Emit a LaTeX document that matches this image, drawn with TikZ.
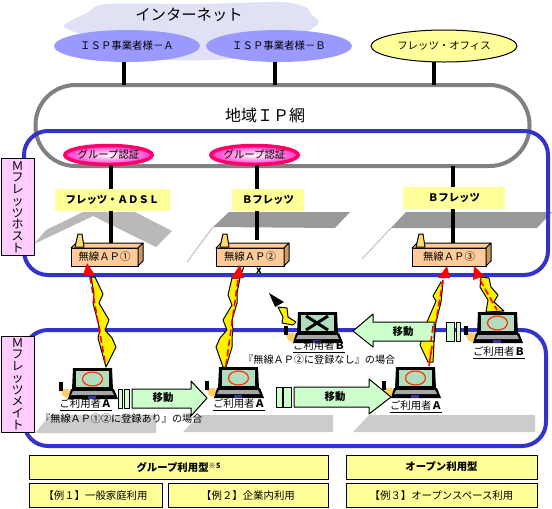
\documentclass[tikz,border=0pt]{standalone}
\usepackage{fontspec}
\setmainfont{Noto Sans CJK JP}
\usetikzlibrary{shapes.geometric}
\tikzset{
  pxbox/.style 2 args={minimum width=#1*0.75pt, minimum height=#2*0.75pt, inner sep=0pt, outer sep=0pt},
  link/.style={black, line width=3pt},
  frame/.style={draw=frameblue, line width=3pt, rounded corners=18pt},
  isp/.style={ellipse, fill=ispblue, pxbox={146}{32}, font=\fontsize{7.8}{9}\selectfont},
  auth/.style={ellipse, draw=authred, line width=2.6pt, inner color=white, outer color=authpink, pxbox={82}{19}, font=\fontsize{7.8}{9}\selectfont},
  service/.style={fill=paleyellow, pxbox={#1}{22}, font=\bfseries\fontsize{7.8}{9}\selectfont},
  apbox/.style={draw=black, line width=0.75pt, fill=apface, pxbox={#1}{18}, font=\fontsize{7.8}{9}\selectfont},
  sidebox/.style={draw=black, line width=0.75pt, fill=pinkbox, pxbox={33}{#1}, align=center, font=\fontsize{9}{8.8}\selectfont},
  planbox/.style={draw=black, line width=0.75pt, fill=paleyellow, pxbox={#1}{24}, font=\fontsize{7.8}{9}\selectfont},
  bolt/.style={draw=black, line width=0.75pt, fill=yellow, line join=round},
  radio/.style={draw=red, line width=1.2pt, dash pattern=on 5pt off 2.5pt},
  move/.style={draw=black, line width=0.75pt, fill=movegreen},
  user/.style={font=\fontsize{7.8}{9}\selectfont, inner sep=0pt},
  note/.style={font=\fontsize{7.6}{9}\selectfont, inner sep=0pt},
  laptop/.pic={
    \fill[black] (2,0) -- (41,0) -- (42,22) -- (1,22) -- cycle;
    \fill[screengreen] (5,3) rectangle (38,19);
    \fill[phone] (-11,21) -- (-2,21) -- (0,27) -- (-4,30) -- (-8,28) -- cycle;
    \fill[black] (-12,14) rectangle (-8,23);
    \fill[black] (0,21) -- (43,21) -- (47,31) -- (-3,31) -- cycle;
    \fill[gray!70] (2,23) -- (41,23) -- (43,27) -- (0,27) -- cycle;
    \fill[keyblue] (17,28) rectangle (25,31);
  },
  okmark/.pic={\draw[draw=okred, line width=0.9pt] (21.5,11) ellipse [x radius=10, y radius=7];},
  ngmark/.pic={\draw[black, line width=2.2pt] (10,4) -- (32,18) (32,4) -- (10,18);}
}
\begin{document}
\begin{tikzpicture}[x=0.75pt, y=-0.75pt, line join=round]
  \definecolor{frameblue}{RGB}{51,51,204}
  \definecolor{ispblue}{RGB}{153,153,255}
  \definecolor{cloudblue}{RGB}{225,225,245}
  \definecolor{paleyellow}{RGB}{255,255,153}
  \definecolor{authred}{RGB}{255,0,102}
  \definecolor{authpink}{RGB}{255,51,204}
  \definecolor{apface}{RGB}{255,204,153}
  \definecolor{apside}{RGB}{204,153,102}
  \definecolor{pinkbox}{RGB}{255,204,255}
  \definecolor{movegreen}{RGB}{204,255,204}
  \definecolor{screengreen}{RGB}{176,220,192}
  \definecolor{phone}{RGB}{255,204,102}
  \definecolor{keyblue}{RGB}{51,51,153}
  \definecolor{okred}{RGB}{255,51,0}
  \definecolor{conetan}{RGB}{255,220,110}
  \useasboundingbox (0,0) rectangle (552,508);

  \fill[cloudblue] plot[smooth cycle, tension=0.5] coordinates {(67,23) (87,13) (107,4) (200,4) (280,2) (305,7) (312,15) (319,22) (310,30) (290,40) (240,58) (150,58) (70,30)};
  \node[font=\fontsize{11.5}{13}\selectfont, inner sep=0pt] (inet) at (189,15) {インターネット};

  \fill[gray!55] (34,244) -- (46,230) -- (83,212) -- (135,212) -- (172,231) -- (156,247) -- (93,216) -- cycle;
  \fill[gray!80] (213,227) -- (229,212) -- (350,212) -- (335,228) -- cycle;
  \fill[gray!80] (391,228) -- (406,212) -- (552,212) -- (537,228) -- cycle;
  \draw[gray!40, line width=1pt] (213,227) -- (187,262) (391,228) -- (362,259);
  \fill[gray!40] (35,433) -- (50,415) -- (156,415) -- (156,433) -- cycle;
  \fill[gray!40] (183,432) -- (199,415) -- (333,415) -- (333,432) -- cycle;
  \fill[gray!40] (353,432) -- (369,415) -- (535,415) -- (535,432) -- cycle;

  \node[isp] (ispa) at (127,46) {ＩＳＰ事業者様－Ａ};
  \node[isp] (ispb) at (279,46) {ＩＳＰ事業者様－Ｂ};
  \node[isp, draw=black, line width=0.75pt, fill=paleyellow] (office) at (444,46) {フレッツ・オフィス};

  \node[draw=gray, line width=3pt, rounded corners=30pt, pxbox={494}{81}] (net) at (282.5,125.5) {};
  \node[font=\fontsize{12}{14}\selectfont, inner sep=0pt] (netlabel) at (265,115) {地域ＩＰ網};

  \coordinate (drop3) at (453,166);
  \draw[link] ([xshift=-2.25pt]ispa.south) -- ([xshift=-2.25pt]ispa.south |- net.north);
  \draw[link] ([xshift=-3pt]ispb.south) -- ([xshift=-3pt]ispb.south |- net.north);
  \draw[link] ([xshift=-7.5pt]office.south) -- ([xshift=-7.5pt]office.south |- net.north);

  \node[frame, pxbox={524}{144}] (hostframe) at (286,203) {};
  \node[frame, pxbox={522}{116}] (mateframe) at (285,388) {};

  \node[auth] (auth1) at (108.5,155) {グループ認証};
  \node[auth] (auth2) at (254.5,155) {グループ認証};

  \node[apbox={67}] (ap1) at (104.5,257) {無線ＡＰ①};
  \node[apbox={68}] (ap2) at (250,257) {無線ＡＰ②};
  \node[apbox={74}] (ap3) at (449,257) {無線ＡＰ③};
  \foreach \apname in {ap1,ap2,ap3} {
    \draw[draw=black, line width=0.75pt, fill=apface] (\apname.north west) -- ([shift={(5,-5)}]\apname.north west) -- ([shift={(5,-5)}]\apname.north east) -- (\apname.north east) -- cycle;
    \draw[draw=black, line width=0.75pt, fill=apside] (\apname.north east) -- ([shift={(5,-5)}]\apname.north east) -- ([shift={(5,-5)}]\apname.south east) -- (\apname.south east) -- cycle;
    \draw[draw=black, line width=0.75pt, fill=conetan] ([shift={(4,-1)}]\apname.north west) -- ([shift={(7,-14)}]\apname.north west) -- ([shift={(11,-14)}]\apname.north west) -- ([shift={(13,-1)}]\apname.north west) -- cycle;
  }
  \draw[link] ([xshift=2pt]auth1.south) -- ([xshift=2pt,yshift=4pt]auth1.south |- ap1.north);
  \draw[link] ([xshift=2pt]auth2.south) -- ([xshift=2pt,yshift=6pt]auth2.south |- ap2.north);
  \draw[link] (drop3) -- ([yshift=4pt]drop3 |- ap3.north);

  \node[service={115}] (adsl) at (112.5,200) {フレッツ・ＡＤＳＬ};
  \node[service={72}] (bflets1) at (268,200) {Ｂフレッツ};
  \node[service={102}] (bflets2) at (454,198) {Ｂフレッツ};

  \node[sidebox={97}] (host) at (17.5,207) {Ｍ\\フ\\レ\\ッ\\ツ\\ホ\\ス\\ト};
  \node[sidebox={96}] (mate) at (17.5,384) {Ｍ\\フ\\レ\\ッ\\ツ\\メ\\イ\\ト};

  \filldraw[bolt] (91,277) -- (94,294) -- (93,303) -- (100,330) -- (98,338) -- (106,367) -- (116,347) -- (112,338) -- (105,330) -- (109,320) -- (99,303) -- (103,294) -- (95,277) -- cycle;
  \draw[radio] (90,277) -- (105,362);
  \fill[red] (87,263) -- (83,275) -- (95,275) -- cycle;

  \filldraw[bolt] (232,278) -- (228,295) -- (232,305) -- (223,320) -- (227,330) -- (220,338) -- (216,347) -- (223,367) -- (226,367) -- (232,347) -- (232,338) -- (233,330) -- (232,320) -- (237,303) -- (237,293) -- (240,278) -- cycle;
  \draw[radio] (238,280) -- (225,372);
  \fill[red] (240,265) -- (231,278) -- (244,278) -- cycle;
  \draw[black, line width=0.75pt] (244,266) -- (242,272);

  \filldraw[bolt] (441,282) -- (433,296) -- (436,301) -- (427,322) -- (420,345) -- (428,362) -- (433,362) -- (434,342) -- (436,322) -- (441,302) -- (443,282) -- cycle;
  \draw[radio] (443,280) -- (436,322);
  \filldraw[bolt] (481,277) -- (480,287) -- (488,300) -- (486,312) -- (504,311) -- (494,302) -- (498,295) -- (491,287) -- (489,278) -- cycle;
  \draw[radio] (480,280) -- (497,310);
  \fill[red] (447,266) -- (438,278) -- (450,278) -- cycle;
  \fill[red] (474,266) -- (473,280) -- (484,276) -- cycle;

  \filldraw[bolt] (278,307) -- (283,317) -- (282,323) -- (293,325) -- (296,322) -- (288,317) -- (287,308) -- cycle;
  \fill[black] (269,293) -- (284,302) -- (275,307) -- cycle;

  \foreach \lapx/\lapy in {71/368, 217/367, 394/367, 476/312} {
    \pic at (\lapx,\lapy) {laptop};
    \pic at (\lapx,\lapy) {okmark};
  }
  \pic at (296,312) {laptop};
  \pic at (296,312) {ngmark};

  \foreach \barx/\barw/\bary/\barh in {118/4/389/19, 124/5/389/19, 276/6/387/20, 283/8/387/20, 446/8/322/19, 456/4/322/19} {
    \filldraw[move] (\barx,\bary) rectangle ++(\barw,\barh);
  }
  \filldraw[move] (132,389) -- (191,389) -- (191,381) -- (207,398) -- (191,416) -- (191,408) -- (132,408) -- cycle;
  \filldraw[move] (294,387) -- (369,387) -- (369,379) -- (391,397) -- (369,414) -- (369,407) -- (294,407) -- cycle;
  \filldraw[move] (434,322) -- (373,322) -- (373,314) -- (353,331) -- (373,347) -- (373,341) -- (434,341) -- cycle;
  \draw[radio] (433,326) -- (431,341);
  \draw[red, line width=1.2pt] (432,346) -- (429,366);
  \node[font=\bfseries\fontsize{7.8}{9}\selectfont, inner sep=0pt] (move1) at (163,398) {移動};
  \node[font=\bfseries\fontsize{7.8}{9}\selectfont, inner sep=0pt] (move2) at (335,397) {移動};
  \node[font=\bfseries\fontsize{7.8}{9}\selectfont, inner sep=0pt] (move3) at (403,332) {移動};

  \node[user] (usera1) at (85.5,405) {\underline{ご利用者\textbf{Ａ}}};
  \node[user] (usera2) at (239,405) {\underline{ご利用者\textbf{Ａ}}};
  \node[user] (usera3) at (416,407) {\underline{ご利用者\textbf{Ａ}}};
  \node[user] (userb1) at (319,347) {\underline{ご利用者\textbf{Ｂ}}};
  \node[user] (userb2) at (499,353) {\underline{ご利用者\textbf{Ｂ}}};

  \node[note, anchor=west] (case1) at (40,419) {『無線ＡＰ①②に登録あり』の場合};
  \node[note, anchor=west] (case2) at (243,360) {『無線ＡＰ②に登録なし』の場合};
  \node[font=\bfseries\fontsize{7}{8}\selectfont, inner sep=0pt] (nomark) at (259,271) {x};

  \node[planbox={299}] (group) at (178.5,467) {\textbf{グループ利用型}\raisebox{0.5ex}{\fontsize{5.5}{6}\selectfont\textbf{※5}}};
  \node[planbox={191}] (open) at (441.5,467) {\textbf{オープン利用型}};
  \node[planbox={133}] (case1box) at (95.5,495.5) {【例１】一般家庭利用};
  \node[planbox={160}] (case2box) at (248,495.5) {【例２】企業内利用};
  \node[planbox={191}] (case3box) at (441.5,495.5) {【例３】オープンスペース利用};
\end{tikzpicture}
\end{document}
